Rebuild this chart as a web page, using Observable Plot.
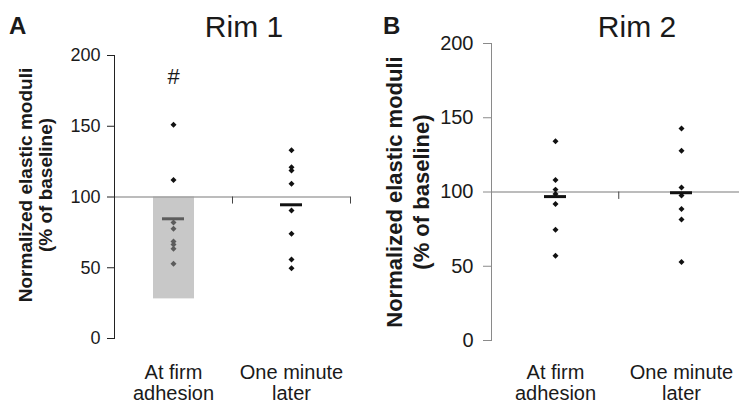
<!DOCTYPE html>
<html>
<head>
<meta charset="utf-8">
<script src="https://cdn.jsdelivr.net/npm/d3@7"></script>
<script src="https://cdn.jsdelivr.net/npm/@observablehq/plot@0.6"></script>
<style>
  body { margin: 0; background: #fff; }
  #page { position: relative; width: 739px; height: 405px; overflow: hidden; font-family: "Liberation Sans", Arial, sans-serif; color: #1a1a1a; }
  .panel { position: absolute; top: 0; }
  .panel svg { max-width: none !important; }
  .lbl { position: absolute; line-height: 1; white-space: nowrap; }
  .letter { font-size: 24px; font-weight: bold; }
  .title { font-size: 30px; width: 200px; text-align: center; }
</style>
</head>
<body>
<div id="page">
  <div id="panelA" class="panel" style="left:0px; width:370px"></div>
  <div id="panelB" class="panel" style="left:369px; width:380px"></div>
  <div class="lbl letter" style="left:9px; top:14px">A</div>
  <div class="lbl letter" style="left:383px; top:14px">B</div>
  <div class="lbl title" style="left:144px; top:12px">Rim 1</div>
  <div class="lbl title" style="left:537px; top:12px">Rim 2</div>
</div>
<script>
// ---- data ----
const categories = ["At firm\nadhesion", "One minute\nlater"];
const yTicks = [0, 50, 100, 150, 200];
const baseline = 100;
const yTitle = "Normalized elastic moduli\n(% of baseline)";

// Rim 1 (panel A)
const rim1First = [151, 112, 82, 77.5, 68.5, 66.4, 63.4, 52.8];
const rim1Later = [133, 121, 118.7, 109.3, 90.5, 74, 55.8, 49.7];
const rim1Means = [84.6, 94.5];
const rim1BarLow = [28];          // grey bar (first category) down from baseline
const rim1Marks = ["#"];          // significance mark over first category
const rim1MarkY = [185];

// Rim 2 (panel B)
const rim2First = [134.1, 108.1, 101.6, 98.7, 91.9, 74.5, 57];
const rim2Later = [142.8, 127.8, 103.1, 97.7, 88.6, 81.4, 52.9];
const rim2Means = [96.9, 99.5];

function pts(first, later) {
  return [
    ...first.map(v => ({cat: categories[0], v})),
    ...later.map(v => ({cat: categories[1], v}))
  ];
}

// ---- Panel A ----
const dotsA = pts(rim1First, rim1Later);
const meansA = rim1Means.map((v, i) => ({cat: categories[i], v}));
const barA = rim1BarLow.map((v, i) => ({cat: categories[i], low: v, high: baseline}));
const sigA = rim1Marks.map((t, i) => ({cat: categories[i], y: rim1MarkY[i], t}));

const plotA = Plot.plot({
  width: 370, height: 405,
  marginLeft: 114, marginRight: 20, marginTop: 55, marginBottom: 67,
  style: {fontFamily: "Liberation Sans, Arial, sans-serif", color: "#1a1a1a", background: "transparent"},
  x: {domain: categories, padding: 0, axis: null},
  y: {domain: [0, 200], axis: null},
  marks: [
    Plot.ruleY([baseline], {stroke: "#7a7a7a", strokeWidth: 1.2}),
    Plot.dot(dotsA, {x: "cat", y: "v", symbol: "diamond2", r: 2.7, fill: "#111", stroke: "none"}),
    Plot.tickY(meansA, {x: "cat", y: "v", stroke: "#111", strokeWidth: 3, insetLeft: 48, insetRight: 48}),
    Plot.rectY(barA, {x: "cat", y1: "low", y2: "high", fill: "#9b9b9b", fillOpacity: 0.55, insetLeft: 39, insetRight: 38}),
    Plot.ruleX(categories, {x: d => d, dx: 59, y1: baseline, y2: baseline - 5, stroke: "#444"}),
    Plot.text(sigA, {x: "cat", y: "y", text: "t", fontSize: 22, fill: "#1a1a1a"}),
    Plot.frame({anchor: "left", stroke: "#222"}),
    Plot.axisY({ticks: yTicks, tickSize: 7, tickPadding: 7, fontSize: 18, label: null, stroke: "#222"}),
    Plot.axisX({tickSize: 0, tickPadding: 25, fontSize: 20, lineHeight: 1.08, label: null}),
    Plot.text([yTitle], {frameAnchor: "left", textAnchor: "middle", lineAnchor: "middle", rotate: -90, dx: -79, dy: -12, fontSize: 19, fontWeight: "bold", lineHeight: 1.05, fill: "#1a1a1a"})
  ]
});
document.getElementById("panelA").appendChild(plotA);

// ---- Panel B ----
const dotsB = pts(rim2First, rim2Later);
const meansB = rim2Means.map((v, i) => ({cat: categories[i], v}));

const plotB = Plot.plot({
  width: 380, height: 405,
  marginLeft: 122, marginRight: 5, marginTop: 43, marginBottom: 65,
  style: {fontFamily: "Liberation Sans, Arial, sans-serif", color: "#1a1a1a", background: "transparent"},
  x: {domain: categories, padding: 0, axis: null},
  y: {domain: [0, 200], axis: null},
  marks: [
    Plot.ruleY([baseline], {stroke: "#7a7a7a", strokeWidth: 1.2}),
    Plot.ruleX(categories, {x: d => d, dx: 63.25, y1: baseline, y2: baseline - 5, stroke: "#444"}),
    Plot.dot(dotsB, {x: "cat", y: "v", symbol: "diamond2", r: 2.7, fill: "#111", stroke: "none"}),
    Plot.tickY(meansB, {x: "cat", y: "v", stroke: "#111", strokeWidth: 3, insetLeft: 52, insetRight: 52}),
    Plot.frame({anchor: "left", stroke: "#8a8a8a"}),
    Plot.axisY({ticks: yTicks, tickSize: 8, tickPadding: 10, fontSize: 20, label: null, stroke: "#8a8a8a"}),
    Plot.axisX({tickSize: 0, tickPadding: 23, fontSize: 20, lineHeight: 1.08, label: null}),
    Plot.text([yTitle], {frameAnchor: "left", textAnchor: "middle", lineAnchor: "middle", rotate: -90, dx: -85, dy: 0, fontSize: 22, fontWeight: "bold", lineHeight: 1.25, fill: "#1a1a1a"})
  ]
});
document.getElementById("panelB").appendChild(plotB);
</script>
</body>
</html>
